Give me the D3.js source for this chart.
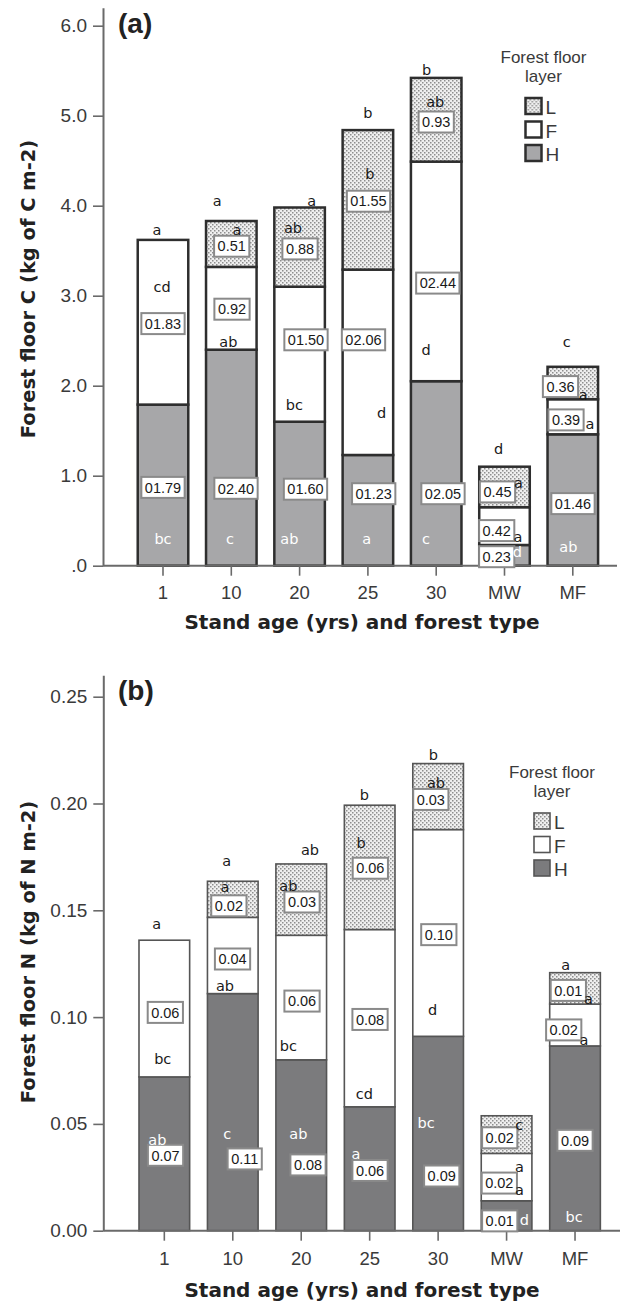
<!DOCTYPE html>
<html>
<head>
<meta charset="utf-8">
<script src="https://cdn.jsdelivr.net/npm/d3@7"></script>
<style>
  body { margin: 0; background: #fff; }
  svg { display: block; }
</style>
</head>
<body>
<div id="chart"></div>
<script>
// categories and layers
const categories = ["1", "10", "20", "25", "30", "MW", "MF"];
const layerKeys = ["H", "F", "L"];

// (a) forest floor C, kg of C m-2
const carbonH = [1.79, 2.40, 1.60, 1.23, 2.05, 0.23, 1.46];
const carbonF = [1.83, 0.92, 1.50, 2.06, 2.44, 0.42, 0.39];
const carbonL = [0, 0.51, 0.88, 1.55, 0.93, 0.45, 0.36];
const carbonBoxH = ["01.79", "02.40", "01.60", "01.23", "02.05", "0.23", "01.46"];
const carbonBoxF = ["01.83", "0.92", "01.50", "02.06", "02.44", "0.42", "0.39"];
const carbonBoxL = ["", "0.51", "0.88", "01.55", "0.93", "0.45", "0.36"];
const carbonLetTop = ["a", "a", "a", "b", "b", "d", "c"];
const carbonLetL = ["", "a", "ab", "b", "ab", "a", "a"];
const carbonLetF = ["cd", "ab", "bc", "d", "d", "a", "a"];
const carbonLetH = ["bc", "c", "ab", "a", "c", "d", "ab"];
const carbonTicks = [0, 1, 2, 3, 4, 5, 6];
const carbonTickLabels = [".0", "1.0", "2.0", "3.0", "4.0", "5.0", "6.0"];

// (b) forest floor N, kg of N m-2
const nitrogenH = [0.072, 0.111, 0.080, 0.058, 0.091, 0.014, 0.0865];
const nitrogenF = [0.064, 0.0357, 0.0583, 0.083, 0.0968, 0.0222, 0.0196];
const nitrogenL = [0, 0.0169, 0.0334, 0.0582, 0.0309, 0.0176, 0.0147];
const nitrogenBoxH = ["0.07", "0.11", "0.08", "0.06", "0.09", "0.01", "0.09"];
const nitrogenBoxF = ["0.06", "0.04", "0.06", "0.08", "0.10", "0.02", "0.02"];
const nitrogenBoxL = ["", "0.02", "0.03", "0.06", "0.03", "0.02", "0.01"];
const nitrogenLetTop = ["a", "a", "ab", "b", "b", "a", "a"];
const nitrogenLetL = ["", "a", "ab", "b", "ab", "c", "a"];
const nitrogenLetF = ["bc", "ab", "bc", "cd", "d", "a", "a"];
const nitrogenLetH = ["ab", "c", "ab", "a", "bc", "d", "bc"];
const nitrogenTicks = [0, 0.05, 0.10, 0.15, 0.20, 0.25];
const nitrogenTickLabels = ["0.00", "0.05", "0.10", "0.15", "0.20", "0.25"];

// label placement: [px offset from bar centre, value on y axis]
const carbonPosTop = [[-6, 3.73], [-14, 4.06], [12, 4.06], [0, 5.03], [-9.5, 5.51], [-6, 1.30], [-6, 2.49]];
const carbonPosLetL = [[0, 0], [5.7, 3.73], [-6.6, 3.75], [2, 4.35], [-1, 5.16], [14, 0.92], [10.5, 1.90]];
const carbonPosBoxL = [[0, 0], [0.4, 3.55], [0.4, 3.52], [0.6, 4.05], [0, 4.93], [-7, 0.82], [-12.3, 1.99]];
const carbonPosBoxF = [[0, 2.69], [0.7, 2.85], [6.4, 2.51], [-4.4, 2.51], [1.6, 3.14], [-7.8, 0.39], [-6.8, 1.62]];
const carbonPosLetF = [[-1, 3.10], [-3, 2.49], [-5.3, 1.79], [13.8, 1.70], [-10.2, 2.40], [13.5, 0.32], [17.2, 1.58]];
const carbonPosBoxH = [[0, 0.87], [4.7, 0.86], [5.9, 0.85], [5.8, 0.80], [6.8, 0.80], [-7.8, 0.10], [0.2, 0.69]];
const carbonPosLetH = [[0, 0.30], [-1.3, 0.30], [-10.3, 0.30], [-1.2, 0.30], [-10.2, 0.30], [12.8, 0.15], [-4.5, 0.21]];

const nitrogenPosTop = [[-7.6, 0.1439], [-6, 0.1732], [8.8, 0.1782], [-5.3, 0.2040], [-4.8, 0.2227], [12.75, 0.0300], [-9.3, 0.1244]];
const nitrogenPosLetL = [[0, 0], [-7.75, 0.1610], [-12.9, 0.1614], [-8.6, 0.1816], [-2.1, 0.2095], [12.75, 0.0495], [13.3, 0.1088]];
const nitrogenPosBoxL = [[0, 0], [-3.9, 0.1521], [0.8, 0.1539], [0.65, 0.1697], [-7.3, 0.2019], [-6.85, 0.0435], [-6.7, 0.1125]];
const nitrogenPosBoxF = [[1, 0.1022], [-0.25, 0.1272], [0.8, 0.1075], [0.35, 0.0989], [0.7, 0.1386], [-7.25, 0.0223], [-11.3, 0.0940]];
const nitrogenPosLetF = [[-1.6, 0.0807], [-7.75, 0.1146], [-12.9, 0.0865], [-5.35, 0.0643], [-5.4, 0.1033], [12.75, 0.0191], [9, 0.0893]];
const nitrogenPosBoxH = [[1.2, 0.0353], [11.95, 0.0336], [6.8, 0.0308], [0.35, 0.0282], [3.6, 0.0256], [-6.85, 0.0046], [0, 0.0423]];
const nitrogenPosLetH = [[-7, 0.0425], [-5.45, 0.0456], [-2.9, 0.0456], [-13.65, 0.0359], [-12.1, 0.0503], [17.75, 0.0050], [-1, 0.0063]];

const W = 621, H = 1303;
const tickFont = "'Liberation Sans', Arial, sans-serif";
const boldFont = "'DejaVu Sans', Verdana, sans-serif";

const svg = d3.select("#chart").append("svg")
    .attr("width", W)
    .attr("height", H)
    .attr("viewBox", [0, 0, W, H]);

// stipple pattern for the L layer
const defs = svg.append("defs");
const pat = defs.append("pattern")
    .attr("id", "stipple")
    .attr("patternUnits", "userSpaceOnUse")
    .attr("width", 4)
    .attr("height", 4);
pat.append("rect").attr("width", 4).attr("height", 4).attr("fill", "#efefef");
pat.append("rect").attr("x", 0).attr("y", 0).attr("width", 1.5).attr("height", 1.5).attr("fill", "#8e8e8e");
pat.append("rect").attr("x", 2).attr("y", 2).attr("width", 1.5).attr("height", 1.5).attr("fill", "#8e8e8e");

function drawPanel(p) {
    const g = svg.append("g");

    const table = categories.map((c, i) => ({ cat: c, H: p.H[i], F: p.F[i], L: p.L[i] }));
    const series = d3.stack().keys(layerKeys)(table);

    const x = d3.scaleBand()
        .domain(categories)
        .range(p.xRange)
        .paddingInner(0.26)
        .paddingOuter(0.13);

    const y = d3.scaleLinear()
        .domain(p.yDomain)
        .range(p.yRange);

    const fills = { H: p.hFill, F: "#ffffff", L: "url(#stipple)" };

    // bars
    g.selectAll(".layer")
        .data(series)
        .join("g")
        .attr("class", "layer")
        .attr("fill", d => fills[d.key])
        .selectAll("rect")
        .data(d => d.filter(s => s[1] - s[0] > 0))
        .join("rect")
        .attr("x", d => x(d.data.cat))
        .attr("y", d => y(d[1]))
        .attr("width", x.bandwidth())
        .attr("height", d => y(d[0]) - y(d[1]))
        .attr("stroke", p.barStroke)
        .attr("stroke-width", p.barStrokeWidth);

    // y axis
    const yAxis = d3.axisLeft(y)
        .tickValues(p.ticks)
        .tickFormat((d, i) => p.tickLabels[i])
        .tickSize(10)
        .tickSizeOuter(0)
        .tickPadding(6);
    const ya = g.append("g")
        .attr("transform", `translate(${p.axisX},0)`)
        .call(yAxis);
    ya.select(".domain").attr("stroke", "#6a6a6a").attr("stroke-width", 2);
    ya.selectAll(".tick line").attr("stroke", "#6a6a6a").attr("stroke-width", 1.6);
    ya.selectAll(".tick text")
        .attr("fill", "#3a3a3a")
        .style("font-family", tickFont)
        .style("font-size", "19px");

    // x axis
    const base = y(0);
    const xAxis = d3.axisBottom(x)
        .tickSize(10)
        .tickSizeOuter(0)
        .tickPadding(p.xTickPad);
    const xa = g.append("g")
        .attr("transform", `translate(0,${base})`)
        .call(xAxis);
    xa.select(".domain").remove();
    xa.selectAll(".tick line").attr("stroke", "#6a6a6a").attr("stroke-width", 1.6);
    xa.selectAll(".tick text")
        .attr("fill", "#3a3a3a")
        .style("font-family", tickFont)
        .style("font-size", "18.5px");
    g.append("line")
        .attr("x1", p.axisX)
        .attr("x2", p.axisEnd)
        .attr("y1", base)
        .attr("y2", base)
        .attr("stroke", "#6a6a6a")
        .attr("stroke-width", 2);

    // value boxes
    const cx = i => x(categories[i]) + x.bandwidth() / 2;
    function boxes(texts, pos) {
        texts.forEach((t, i) => {
            if (!t) return;
            const bx = g.append("g")
                .attr("transform", `translate(${cx(i) + pos[i][0]},${y(pos[i][1])})`);
            const rect = bx.append("rect");
            const txt = bx.append("text")
                .attr("text-anchor", "middle")
                .attr("dy", "0.36em")
                .attr("fill", "#1a1a1a")
                .style("font-family", tickFont)
                .style("font-size", "14.5px")
                .text(t);
            const w = txt.node().getComputedTextLength() + 7;
            rect.attr("x", -w / 2)
                .attr("y", -10.5)
                .attr("width", w)
                .attr("height", 21)
                .attr("fill", "#fff")
                .attr("stroke", p.boxStroke)
                .attr("stroke-width", 2);
        });
    }
    function letters(texts, pos, color) {
        texts.forEach((t, i) => {
            if (!t) return;
            g.append("text")
                .attr("x", cx(i) + pos[i][0])
                .attr("y", y(pos[i][1]))
                .attr("dy", "0.36em")
                .attr("text-anchor", "middle")
                .attr("fill", color)
                .style("font-family", boldFont)
                .style("font-size", "14.5px")
                .text(t);
        });
    }
    boxes(p.boxL, p.posBoxL);
    boxes(p.boxF, p.posBoxF);
    boxes(p.boxH, p.posBoxH);
    letters(p.letTop, p.posTop, "#1a1a1a");
    letters(p.letL, p.posLetL, "#1a1a1a");
    letters(p.letF, p.posLetF, "#1a1a1a");
    letters(p.letH, p.posLetH, "#ffffff");

    // panel tag
    g.append("text")
        .attr("x", 118)
        .attr("y", p.tagY)
        .attr("fill", "#222")
        .style("font-family", tickFont)
        .style("font-weight", "bold")
        .style("font-size", "28px")
        .text(p.tag);

    // axis titles
    g.append("text")
        .attr("transform", `translate(35,${p.yTitleY}) rotate(-90)`)
        .attr("text-anchor", "middle")
        .attr("fill", "#222")
        .style("font-family", boldFont)
        .style("font-weight", "bold")
        .style("font-size", "19.5px")
        .text(p.yTitle);
    g.append("text")
        .attr("x", 362)
        .attr("y", base + p.xTitleDy)
        .attr("text-anchor", "middle")
        .attr("fill", "#222")
        .style("font-family", boldFont)
        .style("font-weight", "bold")
        .style("font-size", "20px")
        .text("Stand age (yrs) and forest type");

    // legend: title lines, then swatches below
    const lg = g.append("g").attr("transform", `translate(${p.legendX},${p.legendY})`);
    ["Forest floor", "layer"].forEach((t, i) => {
        lg.append("text")
            .attr("x", 18)
            .attr("y", i * p.legendLine)
            .attr("text-anchor", "middle")
            .attr("fill", "#3a3a3a")
            .style("font-family", tickFont)
            .style("font-size", "17px")
            .text(t);
    });
    ["L", "F", "H"].forEach((k, i) => {
        const sy = p.legendSwatchY + i * 23.5;
        lg.append("rect")
            .attr("x", 0)
            .attr("y", sy)
            .attr("width", 16)
            .attr("height", 16)
            .attr("fill", fills[k])
            .attr("stroke", p.barStroke)
            .attr("stroke-width", p.barStrokeWidth);
        lg.append("text")
            .attr("x", 20)
            .attr("y", sy + 16)
            .attr("fill", "#3a3a3a")
            .style("font-family", tickFont)
            .style("font-size", "19px")
            .text(k);
    });
}

drawPanel({
    H: carbonH, F: carbonF, L: carbonL,
    boxH: carbonBoxH, boxF: carbonBoxF, boxL: carbonBoxL,
    letTop: carbonLetTop, letL: carbonLetL, letF: carbonLetF, letH: carbonLetH,
    posTop: carbonPosTop, posLetL: carbonPosLetL, posBoxL: carbonPosBoxL,
    posBoxF: carbonPosBoxF, posLetF: carbonPosLetF, posBoxH: carbonPosBoxH, posLetH: carbonPosLetH,
    ticks: carbonTicks, tickLabels: carbonTickLabels,
    yDomain: [0, 6.2], yRange: [565.7, 565.7 - 6.2 * 90],
    xRange: [128.85, 606.95],
    axisX: 103, axisEnd: 617, xTickPad: 10,
    hFill: "#a7a7a9", barStroke: "#2e2e2e", barStrokeWidth: 2.5, boxStroke: "#8a8a8a",
    tag: "(a)", tagY: 33,
    yTitle: "Forest floor C (kg of C m-2)", yTitleY: 289, xTitleDy: 63,
    legendX: 525.5, legendY: 63, legendLine: 18.5, legendSwatchY: 35
});

drawPanel({
    H: nitrogenH, F: nitrogenF, L: nitrogenL,
    boxH: nitrogenBoxH, boxF: nitrogenBoxF, boxL: nitrogenBoxL,
    letTop: nitrogenLetTop, letL: nitrogenLetL, letF: nitrogenLetF, letH: nitrogenLetH,
    posTop: nitrogenPosTop, posLetL: nitrogenPosLetL, posBoxL: nitrogenPosBoxL,
    posBoxF: nitrogenPosBoxF, posLetF: nitrogenPosLetF, posBoxH: nitrogenPosBoxH, posLetH: nitrogenPosLetH,
    ticks: nitrogenTicks, tickLabels: nitrogenTickLabels,
    yDomain: [0, 0.26], yRange: [1230.7, 1230.7 - 0.26 * 2136],
    xRange: [130.1, 609.25],
    axisX: 103.3, axisEnd: 620, xTickPad: 11,
    hFill: "#7b7b7d", barStroke: "#555", barStrokeWidth: 1.6, boxStroke: "#8a8a8a",
    tag: "(b)", tagY: 700,
    yTitle: "Forest floor N (kg of N m-2)", yTitleY: 952, xTitleDy: 66,
    legendX: 534, legendY: 778, legendLine: 18.5, legendSwatchY: 35
});
</script>
</body>
</html>
